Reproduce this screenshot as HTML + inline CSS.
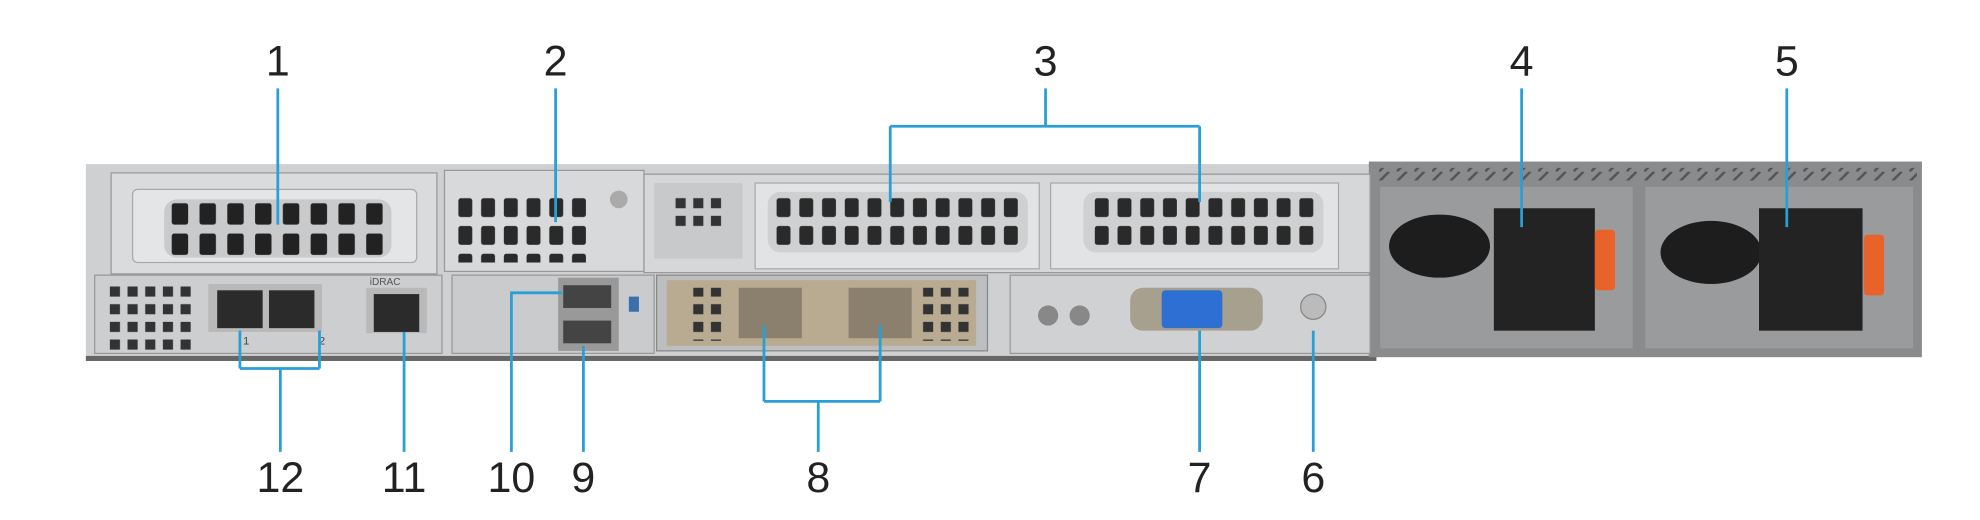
<!DOCTYPE html>
<html><head><meta charset="utf-8"><style>
html,body{margin:0;padding:0;background:#fff;width:1980px;height:520px;overflow:hidden}
svg{display:block}
text{font-family:"Liberation Sans",sans-serif;font-size:34px;fill:#222;text-anchor:middle}
</style></head><body>
<svg width="1980" height="520" viewBox="0 0 1568 412" preserveAspectRatio="none">
<defs>
<pattern id="vent" width="22" height="24" patternUnits="userSpaceOnUse"><rect x="4" y="3" width="13" height="17" rx="2" fill="#222"/></pattern>
<pattern id="vent2" width="18" height="22" patternUnits="userSpaceOnUse"><rect x="3" y="3" width="11" height="15" rx="2" fill="#2a2a2a"/></pattern>
<pattern id="grill" width="14" height="14" patternUnits="userSpaceOnUse"><rect x="3" y="3" width="8" height="8" fill="#333"/></pattern>
<pattern id="stripe" width="14" height="8" patternUnits="userSpaceOnUse"><path d="M0 8 L8 0" stroke="#555" stroke-width="2"/></pattern>
</defs>
<rect x="68" y="130" width="1022" height="154" fill="#cfd0d2"/>
<rect x="68" y="282" width="1022" height="4" fill="#666"/>
<rect x="1084" y="128" width="438" height="155" fill="#8a8b8d"/>
<rect x="1090" y="133" width="428" height="10" fill="url(#stripe)"/>
<rect x="88" y="137" width="258" height="80" fill="#dadbdd" stroke="#9a9a9a"/>
<rect x="105" y="150" width="225" height="58" rx="4" fill="#e4e5e6" stroke="#aaa"/>
<rect x="130" y="158" width="180" height="46" rx="10" fill="#c9cacb"/>
<rect x="132" y="144" width="176" height="48" fill="url(#vent)" transform="translate(0,14)"/>
<rect x="352" y="135" width="158" height="80" fill="#d8d9db" stroke="#999"/>
<rect x="360" y="154" width="108" height="54" fill="url(#vent2)"/>
<circle cx="490" cy="158" r="7" fill="#aaa"/>
<rect x="510" y="138" width="575" height="78" fill="#d6d7d9" stroke="#999"/>
<rect x="518" y="145" width="70" height="60" fill="#c8c9cb"/>
<rect x="532" y="154" width="42" height="28" fill="url(#grill)"/>
<rect x="598" y="145" width="225" height="68" fill="#e2e3e4" stroke="#aaa"/>
<rect x="608" y="152" width="206" height="48" rx="10" fill="#cfd0d1"/>
<rect x="612" y="154" width="198" height="44" fill="url(#vent2)"/>
<rect x="832" y="145" width="228" height="68" fill="#e2e3e4" stroke="#aaa"/>
<rect x="858" y="152" width="190" height="48" rx="10" fill="#cfd0d1"/>
<rect x="864" y="154" width="180" height="44" fill="url(#vent2)"/>
<rect x="75" y="218" width="275" height="62" fill="#cdced0" stroke="#999"/>
<rect x="84" y="224" width="70" height="56" fill="url(#grill)"/>
<rect x="165" y="225" width="90" height="38" fill="#b9b9b9"/>
<rect x="172" y="230" width="36" height="30" fill="#2b2b2b"/>
<rect x="213" y="230" width="36" height="30" fill="#2b2b2b"/>
<rect x="290" y="228" width="48" height="36" fill="#b9b9b9"/>
<rect x="296" y="233" width="36" height="30" fill="#2b2b2b"/>
<text x="305" y="226" style="font-size:8px;fill:#555">iDRAC</text>
<text x="195" y="273" style="font-size:9px;fill:#444">1</text>
<text x="255" y="273" style="font-size:9px;fill:#444">2</text>
<rect x="358" y="218" width="160" height="62" fill="#cacbcd" stroke="#999"/>
<rect x="442" y="220" width="48" height="58" fill="#999"/>
<rect x="446" y="226" width="38" height="18" fill="#444"/>
<rect x="446" y="254" width="38" height="18" fill="#444"/>
<rect x="498" y="235" width="8" height="12" fill="#3a6fb0"/>
<rect x="520" y="218" width="262" height="60" fill="#bdbebf" stroke="#888"/>
<rect x="528" y="222" width="245" height="52" fill="#b8ab92"/>
<rect x="585" y="228" width="50" height="40" fill="#8b806d"/>
<rect x="672" y="228" width="50" height="40" fill="#8b806d"/>
<rect x="546" y="228" width="28" height="42" fill="url(#grill)"/>
<rect x="728" y="228" width="42" height="42" fill="url(#grill)"/>
<rect x="800" y="218" width="285" height="62" fill="#d0d1d3" stroke="#999"/>
<circle cx="830" cy="250" r="8" fill="#888"/><circle cx="855" cy="250" r="8" fill="#888"/>
<rect x="895" y="228" width="105" height="34" rx="10" fill="#a7a08e"/>
<rect x="920" y="230" width="48" height="30" rx="3" fill="#2d6fd2"/>
<circle cx="1040" cy="243" r="10" fill="#bbb" stroke="#888"/>
<rect x="1093" y="148" width="200" height="128" fill="#9a9b9d"/>
<rect x="1303" y="148" width="212" height="128" fill="#9a9b9d"/>
<ellipse cx="1140" cy="195" rx="40" ry="25" fill="#1d1d1d"/>
<ellipse cx="1355" cy="200" rx="40" ry="25" fill="#1d1d1d"/>
<rect x="1183" y="165" width="80" height="97" fill="#232323"/>
<rect x="1393" y="165" width="82" height="97" fill="#232323"/>
<rect x="1263" y="182" width="16" height="48" rx="3" fill="#e8622a"/>
<rect x="1476" y="186" width="16" height="48" rx="3" fill="#e8622a"/>
<g stroke="#2a9fd6" stroke-width="2.2" fill="none">
<path d="M220 70 V178"/>
<path d="M440 70 V176"/>
<path d="M828 70 V100 M705 100 H950 M705 100 V160 M950 100 V160"/>
<path d="M1205 70 V180"/>
<path d="M1415 70 V180"/>
<path d="M222 358 V292 M190 292 H253 M190 292 V262 M253 292 V262"/>
<path d="M320 358 V263"/>
<path d="M405 358 V232 H445"/>
<path d="M462 358 V274"/>
<path d="M648 358 V318 M605 318 H697 M605 318 V258 M697 318 V258"/>
<path d="M950 358 V262"/>
<path d="M1040 358 V262"/>
</g>
<text x="220" y="60">1</text>
<text x="440" y="60">2</text>
<text x="828" y="60">3</text>
<text x="1205" y="60">4</text>
<text x="1415" y="60">5</text>
<text x="222" y="390">12</text>
<text x="320" y="390">11</text>
<text x="405" y="390">10</text>
<text x="462" y="390">9</text>
<text x="648" y="390">8</text>
<text x="950" y="390">7</text>
<text x="1040" y="390">6</text>
</svg>
</body></html>
